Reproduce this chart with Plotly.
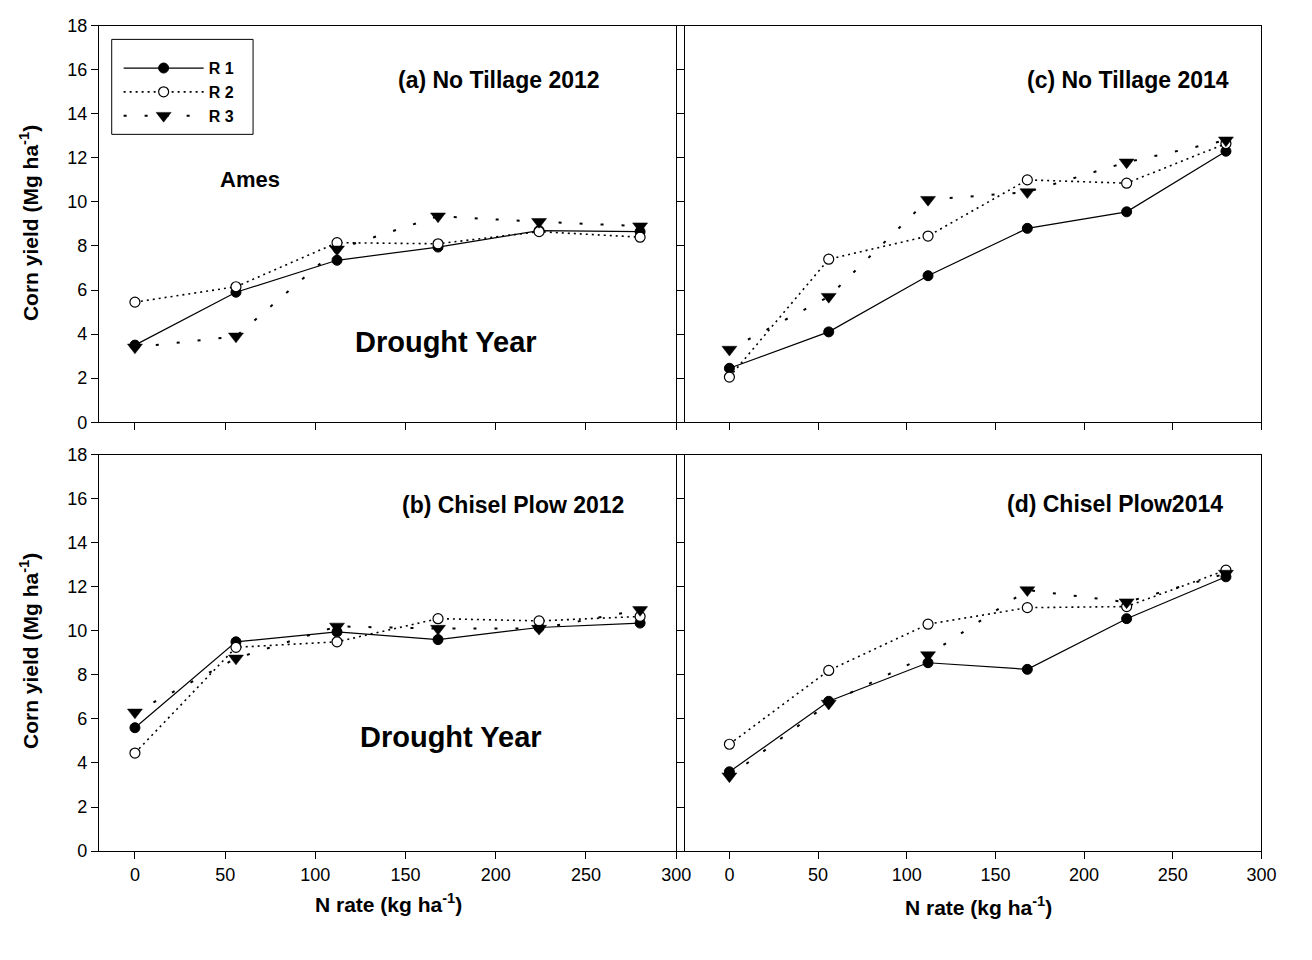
import plotly.graph_objects as go

# ---- data ----
n_rate = [0, 56, 112, 168, 224, 280]

a_r1 = [3.5, 5.9, 7.35, 7.95, 8.7, 8.65]
a_r2 = [5.45, 6.15, 8.15, 8.1, 8.65, 8.4]
a_r3 = [3.4, 3.9, 7.85, 9.35, 9.1, 8.9]

b_r1 = [5.6, 9.5, 9.95, 9.6, 10.15, 10.35]
b_r2 = [4.45, 9.25, 9.5, 10.55, 10.45, 10.65]
b_r3 = [6.3, 8.75, 10.2, 10.1, 10.1, 10.95]

c_r1 = [2.45, 4.1, 6.65, 8.8, 9.55, 12.3]
c_r2 = [2.05, 7.4, 8.45, 11.0, 10.85, 12.65]
c_r3 = [3.3, 5.7, 10.1, 10.45, 11.8, 12.8]

d_r1 = [3.6, 6.8, 8.55, 8.25, 10.55, 12.45]
d_r2 = [4.85, 8.2, 10.3, 11.05, 11.1, 12.75]
d_r3 = [3.4, 6.7, 8.9, 11.85, 11.3, 12.6]

series_names = ["R 1", "R 2", "R 3"]
panel_titles = ["(a) No Tillage 2012", "(b) Chisel Plow 2012",
                "(c) No Tillage 2014", "(d) Chisel Plow2014"]
x_ticks = [0, 50, 100, 150, 200, 250, 300]

FONT = "Arial, 'Liberation Sans', sans-serif"
W, H = 1312, 960

def px_x(p):
    return p / W

def px_y(p):
    return 1 - p / H

# panel boxes (pixels)
left_x = (100, 684)
right_x = (693, 1276)
top_y = (16, 421)
bot_y = (454, 859)

fig = go.Figure()

panels = [
    ("x", "y", [a_r1, a_r2, a_r3], True),
    ("x2", "y2", [b_r1, b_r2, b_r3], False),
    ("x3", "y3", [c_r1, c_r2, c_r3], False),
    ("x4", "y4", [d_r1, d_r2, d_r3], False),
]

styles = [
    dict(line=dict(color="black", width=1.2, dash="solid"),
         marker=dict(symbol="circle", size=10, color="black",
                     line=dict(color="black", width=1))),
    dict(line=dict(color="black", width=1.6, dash="2px,4px"),
         marker=dict(symbol="circle", size=10, color="white",
                     line=dict(color="black", width=1.2))),
    dict(line=dict(color="black", width=2, dash="3px,18px"),
         marker=dict(symbol="triangle-down", size=13, color="black",
                     line=dict(color="black", width=0.5))),
]

for xa, ya, data, show in panels:
    for name, vals, st in zip(series_names, data, styles):
        fig.add_trace(go.Scatter(
            x=n_rate, y=vals, mode="lines+markers", name=name,
            xaxis=xa, yaxis=ya, showlegend=show,
            line=st["line"], marker=st["marker"]))

axis_common = dict(showline=True, linecolor="black", linewidth=1, mirror=True,
                   ticks="outside", ticklen=7, tickcolor="black", tickwidth=1,
                   showgrid=False, zeroline=False,
                   tickfont=dict(family=FONT, size=18, color="black"))

def xdom(d):
    return [px_x(d[0]), px_x(d[1])]

def ydom(d):
    return [px_y(d[1]), px_y(d[0])]

fig.update_layout(
    width=W, height=H, autosize=False,
    margin=dict(l=0, r=0, t=0, b=0, pad=0),
    paper_bgcolor="white", plot_bgcolor="white",
    font=dict(family=FONT, color="black"),
    xaxis=dict(domain=xdom(left_x), range=[-20, 300], tickvals=x_ticks,
               showticklabels=False, anchor="y", **axis_common),
    yaxis=dict(domain=ydom(top_y), range=[0, 18], dtick=2, anchor="x", **axis_common),
    xaxis2=dict(domain=xdom(left_x), range=[-20, 300], tickvals=x_ticks,
                anchor="y2", **axis_common),
    yaxis2=dict(domain=ydom(bot_y), range=[0, 18], dtick=2, anchor="x2", **axis_common),
    xaxis3=dict(domain=xdom(right_x), range=[-25, 300], tickvals=x_ticks,
                showticklabels=False, anchor="y3", **axis_common),
    yaxis3=dict(domain=ydom(top_y), range=[0, 18], dtick=2, showticklabels=False,
                anchor="x3", **axis_common),
    xaxis4=dict(domain=xdom(right_x), range=[-25, 300], tickvals=x_ticks,
                anchor="y4", **axis_common),
    yaxis4=dict(domain=ydom(bot_y), range=[0, 18], dtick=2, showticklabels=False,
                anchor="x4", **axis_common),
    legend=dict(x=px_x(120), y=px_y(42), xanchor="left", yanchor="top",
                borderwidth=0, bgcolor="rgba(0,0,0,0)",
                font=dict(family=FONT, size=16, color="black", weight="bold"),
                tracegroupgap=0, itemwidth=80),
    showlegend=True,
    shapes=[dict(type="rect", xref="paper", yref="paper",
                 x0=px_x(113), x1=px_x(256), y0=px_y(127), y1=px_y(30),
                 line=dict(color="black", width=1), fillcolor="rgba(0,0,0,0)",
                 layer="above")],
)

def ann(text, x, y, size, angle=0):
    fig.add_annotation(text=text, x=px_x(x), y=px_y(y), xref="paper", yref="paper",
                       showarrow=False, textangle=angle, xanchor="center", yanchor="middle",
                       font=dict(family=FONT, size=size, color="black", weight="bold"))

ann(panel_titles[0], 505, 71, 23)
ann(panel_titles[1], 519, 506, 23)
ann(panel_titles[2], 1141, 71, 23)
ann(panel_titles[3], 1128, 505, 23)
ann("Ames", 253, 173, 22)
ann("Drought Year", 451, 339, 29)
ann("Drought Year", 456, 742, 29)
ann("Corn yield (Mg ha<sup>-1</sup>)", 30, 218, 21, -90)
ann("Corn yield (Mg ha<sup>-1</sup>)", 30, 655, 21, -90)
ann("N rate (kg ha<sup>-1</sup>)", 393, 912, 21)
ann("N rate (kg ha<sup>-1</sup>)", 990, 915, 21)

fig.write_html("out.html")
